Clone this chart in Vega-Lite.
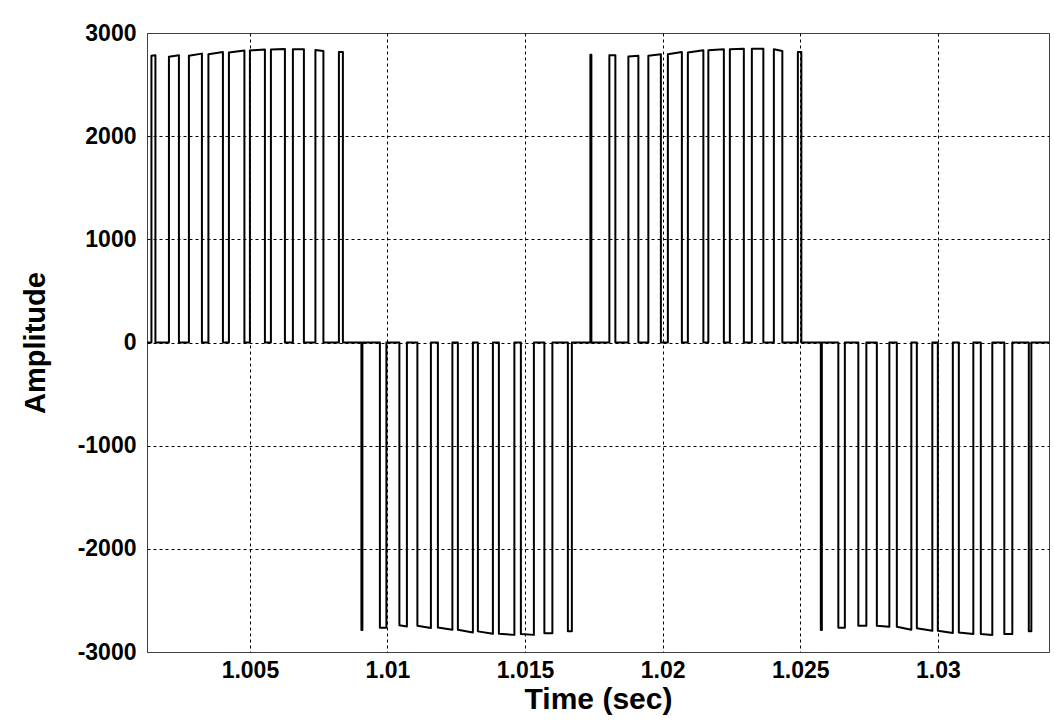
{
 "$schema": "https://vega.github.io/schema/vega-lite/v6.json",
 "width": 902, "height": 619,
 "autosize": {"type": "none"},
 "padding": {"left": 147, "top": 33, "right": 3, "bottom": 70},
 "background": "white",
 "config": {"view": {"stroke": "#404040", "strokeWidth": 1}, "font": "Liberation Sans"},
 "data": {"values": [
  {"i":0,"t":1.00126,"v":0},
  {"i":1,"t":1.001421,"v":0},{"i":2,"t":1.001421,"v":2780},{"i":3,"t":1.001566,"v":2785},{"i":4,"t":1.001566,"v":0},
  {"i":5,"t":1.002057,"v":0},{"i":6,"t":1.002057,"v":2770},{"i":7,"t":1.00242,"v":2785},{"i":8,"t":1.00242,"v":0},
  {"i":9,"t":1.002783,"v":0},{"i":10,"t":1.002783,"v":2780},{"i":11,"t":1.003256,"v":2800},{"i":12,"t":1.003256,"v":0},
  {"i":13,"t":1.003492,"v":0},{"i":14,"t":1.003492,"v":2795},{"i":15,"t":1.004019,"v":2815},{"i":16,"t":1.004019,"v":0},
  {"i":17,"t":1.004237,"v":0},{"i":18,"t":1.004237,"v":2812},{"i":19,"t":1.0048,"v":2830},{"i":20,"t":1.0048,"v":0},
  {"i":21,"t":1.005,"v":0},{"i":22,"t":1.005,"v":2830},{"i":23,"t":1.005545,"v":2840},{"i":24,"t":1.005545,"v":0},
  {"i":25,"t":1.005763,"v":0},{"i":26,"t":1.005763,"v":2840},{"i":27,"t":1.006272,"v":2845},{"i":28,"t":1.006272,"v":0},
  {"i":29,"t":1.006562,"v":0},{"i":30,"t":1.006562,"v":2842},{"i":31,"t":1.006962,"v":2842},{"i":32,"t":1.006962,"v":0},
  {"i":33,"t":1.00738,"v":0},{"i":34,"t":1.00738,"v":2835},{"i":35,"t":1.007671,"v":2825},{"i":36,"t":1.007671,"v":0},
  {"i":37,"t":1.008234,"v":0},{"i":38,"t":1.008234,"v":2815},{"i":39,"t":1.008379,"v":2815},{"i":40,"t":1.008379,"v":0},
  {"i":41,"t":1.009052,"v":0},{"i":42,"t":1.009052,"v":-2786},{"i":43,"t":1.009088,"v":-2786},{"i":44,"t":1.009088,"v":0},
  {"i":45,"t":1.009724,"v":0},{"i":46,"t":1.009724,"v":-2765},{"i":47,"t":1.00996,"v":-2765},{"i":48,"t":1.00996,"v":0},
  {"i":49,"t":1.010432,"v":0},{"i":50,"t":1.010432,"v":-2740},{"i":51,"t":1.010705,"v":-2752},{"i":52,"t":1.010705,"v":0},
  {"i":53,"t":1.011086,"v":0},{"i":54,"t":1.011086,"v":-2745},{"i":55,"t":1.011577,"v":-2768},{"i":56,"t":1.011577,"v":0},
  {"i":57,"t":1.011831,"v":0},{"i":58,"t":1.011831,"v":-2762},{"i":59,"t":1.012358,"v":-2784},{"i":60,"t":1.012358,"v":0},
  {"i":61,"t":1.012558,"v":0},{"i":62,"t":1.012558,"v":-2784},{"i":63,"t":1.013103,"v":-2810},{"i":64,"t":1.013103,"v":0},
  {"i":65,"t":1.013285,"v":0},{"i":66,"t":1.013285,"v":-2800},{"i":67,"t":1.01383,"v":-2823},{"i":68,"t":1.01383,"v":0},
  {"i":69,"t":1.014048,"v":0},{"i":70,"t":1.014048,"v":-2823},{"i":71,"t":1.014611,"v":-2834},{"i":72,"t":1.014611,"v":0},
  {"i":73,"t":1.014847,"v":0},{"i":74,"t":1.014847,"v":-2825},{"i":75,"t":1.01532,"v":-2834},{"i":76,"t":1.01532,"v":0},
  {"i":77,"t":1.015701,"v":0},{"i":78,"t":1.015701,"v":-2818},{"i":79,"t":1.015992,"v":-2818},{"i":80,"t":1.015992,"v":0},
  {"i":81,"t":1.016555,"v":0},{"i":82,"t":1.016555,"v":-2800},{"i":83,"t":1.0167,"v":-2800},{"i":84,"t":1.0167,"v":0},
  {"i":85,"t":1.017373,"v":0},{"i":86,"t":1.017373,"v":2790},{"i":87,"t":1.017409,"v":2790},{"i":88,"t":1.017409,"v":0},
  {"i":89,"t":1.018063,"v":0},{"i":90,"t":1.018063,"v":2785},{"i":91,"t":1.018281,"v":2785},{"i":92,"t":1.018281,"v":0},
  {"i":93,"t":1.018754,"v":0},{"i":94,"t":1.018754,"v":2773},{"i":95,"t":1.019117,"v":2780},{"i":96,"t":1.019117,"v":0},
  {"i":97,"t":1.01948,"v":0},{"i":98,"t":1.01948,"v":2779},{"i":99,"t":1.019935,"v":2795},{"i":100,"t":1.019935,"v":0},
  {"i":101,"t":1.020189,"v":0},{"i":102,"t":1.020189,"v":2795},{"i":103,"t":1.020698,"v":2815},{"i":104,"t":1.020698,"v":0},
  {"i":105,"t":1.020916,"v":0},{"i":106,"t":1.020916,"v":2812},{"i":107,"t":1.021479,"v":2832},{"i":108,"t":1.021479,"v":0},
  {"i":109,"t":1.02166,"v":0},{"i":110,"t":1.02166,"v":2832},{"i":111,"t":1.022224,"v":2842},{"i":112,"t":1.022224,"v":0},
  {"i":113,"t":1.022442,"v":0},{"i":114,"t":1.022442,"v":2842},{"i":115,"t":1.02295,"v":2847},{"i":116,"t":1.02295,"v":0},
  {"i":117,"t":1.023241,"v":0},{"i":118,"t":1.023241,"v":2847},{"i":119,"t":1.023659,"v":2847},{"i":120,"t":1.023659,"v":0},
  {"i":121,"t":1.024041,"v":0},{"i":122,"t":1.024041,"v":2842},{"i":123,"t":1.024349,"v":2825},{"i":124,"t":1.024349,"v":0},
  {"i":125,"t":1.024913,"v":0},{"i":126,"t":1.024913,"v":2815},{"i":127,"t":1.02504,"v":2815},{"i":128,"t":1.02504,"v":0},
  {"i":129,"t":1.025748,"v":0},{"i":130,"t":1.025748,"v":-2786},{"i":131,"t":1.025785,"v":-2786},{"i":132,"t":1.025785,"v":0},
  {"i":133,"t":1.026384,"v":0},{"i":134,"t":1.026384,"v":-2765},{"i":135,"t":1.026621,"v":-2765},{"i":136,"t":1.026621,"v":0},
  {"i":137,"t":1.027111,"v":0},{"i":138,"t":1.027111,"v":-2745},{"i":139,"t":1.027402,"v":-2745},{"i":140,"t":1.027402,"v":0},
  {"i":141,"t":1.027783,"v":0},{"i":142,"t":1.027783,"v":-2745},{"i":143,"t":1.028238,"v":-2755},{"i":144,"t":1.028238,"v":0},
  {"i":145,"t":1.02851,"v":0},{"i":146,"t":1.02851,"v":-2755},{"i":147,"t":1.029037,"v":-2784},{"i":148,"t":1.029037,"v":0},
  {"i":149,"t":1.029237,"v":0},{"i":150,"t":1.029237,"v":-2770},{"i":151,"t":1.0298,"v":-2795},{"i":152,"t":1.0298,"v":0},
  {"i":153,"t":1.03,"v":0},{"i":154,"t":1.03,"v":-2795},{"i":155,"t":1.030545,"v":-2815},{"i":156,"t":1.030545,"v":0},
  {"i":157,"t":1.030763,"v":0},{"i":158,"t":1.030763,"v":-2810},{"i":159,"t":1.03129,"v":-2825},{"i":160,"t":1.03129,"v":0},
  {"i":161,"t":1.031562,"v":0},{"i":162,"t":1.031562,"v":-2825},{"i":163,"t":1.03198,"v":-2835},{"i":164,"t":1.03198,"v":0},
  {"i":165,"t":1.032416,"v":0},{"i":166,"t":1.032416,"v":-2825},{"i":167,"t":1.032707,"v":-2825},{"i":168,"t":1.032707,"v":0},
  {"i":169,"t":1.033306,"v":0},{"i":170,"t":1.033306,"v":-2800},{"i":171,"t":1.033398,"v":-2800},{"i":172,"t":1.033398,"v":0},
  {"i":173,"t":1.03404,"v":0}
 ]},
 "mark": {"type": "line", "color": "black", "strokeWidth": 2, "strokeJoin": "round", "clip": true},
 "encoding": {
  "x": {"field": "t", "type": "quantitative",
   "scale": {"domain": [1.00126, 1.03404], "nice": false, "zero": false},
   "axis": {"values": [1.005, 1.01, 1.015, 1.02, 1.025, 1.03], "labelExpr": "'' + datum.value",
    "title": "Time (sec)", "grid": true, "gridColor": "black", "gridDash": [3, 3], "gridOpacity": 1, "gridWidth": 1,
    "ticks": false, "domain": true, "domainColor": "#404040", "domainWidth": 1,
    "labelFont": "Liberation Sans", "labelFontWeight": "bold", "labelFontSize": 23, "labelColor": "black", "labelPadding": 7, "labelFlush": false,
    "titleFont": "Liberation Sans", "titleFontWeight": "bold", "titleFontSize": 30, "titleColor": "black", "titlePadding": 2}},
  "y": {"field": "v", "type": "quantitative",
   "scale": {"domain": [-3000, 3000], "nice": false, "zero": false},
   "axis": {"values": [-3000, -2000, -1000, 0, 1000, 2000, 3000], "labelExpr": "'' + datum.value",
    "title": "Amplitude", "grid": true, "gridColor": "black", "gridDash": [3, 3],
    "gridOpacity": {"condition": {"test": "abs(datum.value) == 3000", "value": 0}, "value": 1}, "gridWidth": 1,
    "ticks": false, "domain": true, "domainColor": "#404040", "domainWidth": 1,
    "labelFont": "Liberation Sans", "labelFontWeight": "bold", "labelFontSize": 23, "labelColor": "black", "labelPadding": 11, "labelFlush": false,
    "titleFont": "Liberation Sans", "titleFontWeight": "bold", "titleFontSize": 29, "titleColor": "black", "titlePadding": 27}},
  "order": {"field": "i", "type": "quantitative"}
 }
}
